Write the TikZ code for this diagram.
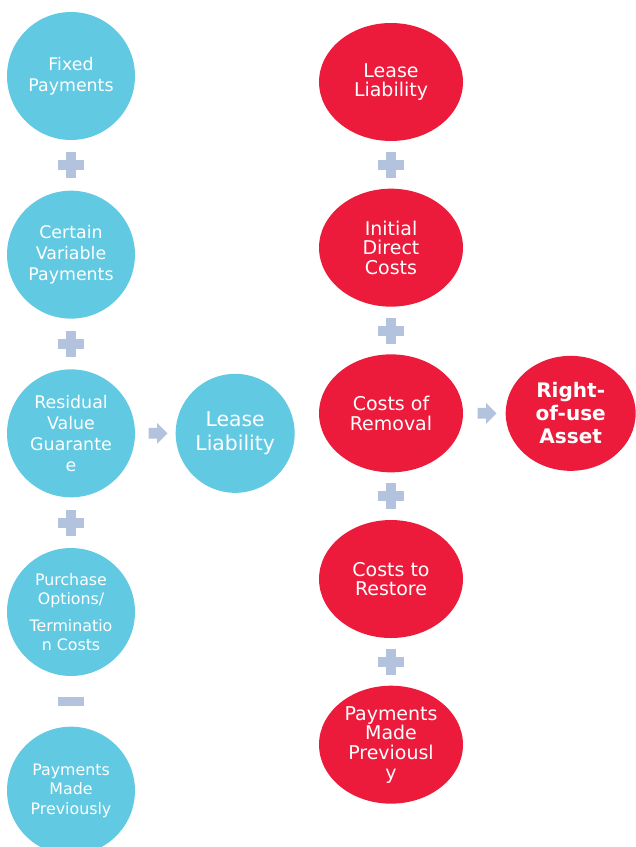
\documentclass[tikz,border=0pt]{standalone}
\usepackage{fontspec}
\setmainfont{DejaVu Sans}
\usetikzlibrary{positioning,calc,shapes.geometric,shapes.arrows}

\definecolor{leasecyan}{HTML}{62C9E2}
\definecolor{assetred}{HTML}{ED1B3B}
\definecolor{opgrey}{HTML}{B3C2DD}

\tikzset{
    leasebub/.style={circle, fill=leasecyan, text=white, minimum size=2.56cm, inner sep=0pt, align=center, font=\fontsize{9.9}{12}\selectfont},
    assetbub/.style={ellipse, fill=assetred, text=white, minimum width=2.88cm, minimum height=2.36cm, inner sep=0pt, align=center, font=\fontsize{10.8}{11.2}\selectfont},
    plusop/.style={minimum size=0.52cm, inner sep=0pt, path picture={
        \fill[opgrey] ([xshift=-0.26cm,yshift=-0.1cm]path picture bounding box.center) rectangle ([xshift=0.26cm,yshift=0.1cm]path picture bounding box.center);
        \fill[opgrey] ([xshift=-0.1cm,yshift=-0.26cm]path picture bounding box.center) rectangle ([xshift=0.1cm,yshift=0.26cm]path picture bounding box.center);}},
    minusop/.style={rectangle, fill=opgrey, minimum width=0.52cm, minimum height=0.18cm, inner sep=0pt},
    blockarrow/.style={single arrow, fill=opgrey, minimum height=0.38cm, inner sep=0.1cm, single arrow head extend=0.1cm}
}

\begin{document}
\begin{tikzpicture}[x=0.02cm, y=-0.02cm]
    \useasboundingbox (0,0) rectangle (635,847);

    % lease liability side
    \node[leasebub] (fp) at (71,76) {Fixed\\Payments};
    \node[leasebub, below=1cm of fp] (cv) {Certain\\Variable\\Payments};
    \node[leasebub, below=1cm of cv] (rv) {Residual\\Value\\Guarante\\e};
    \node[leasebub, below=1cm of rv, font=\fontsize{9}{11}\selectfont] (po) {Purchase\\Options/\\[4pt]Terminatio\\n Costs};
    \node[leasebub, below=1cm of po, font=\fontsize{9}{11}\selectfont] (pm) {Payments\\Made\\Previously};
    \node[leasebub, minimum size=2.38cm, right=0.8cm of rv, font=\fontsize{11.6}{13.6}\selectfont] (ll) {Lease\\Liability};

    \node[plusop] (p1) at ($(fp.south)!0.5!(cv.north)$) {};
    \node[plusop] (p2) at ($(cv.south)!0.5!(rv.north)$) {};
    \node[plusop] (p3) at ($(rv.south)!0.5!(po.north)$) {};
    \node[minusop] (m1) at ($(po.south)!0.5!(pm.north)$) {};
    \node[blockarrow] (a1) at ($(rv.east)!0.5!(ll.west)$) {};

    % right-of-use asset side
    \node[assetbub] (rl) at (391,82) {Lease\\Liability};
    \node[assetbub, below=0.94cm of rl] (id) {Initial\\Direct\\Costs};
    \node[assetbub, below=0.94cm of id] (cr) {Costs of\\Removal};
    \node[assetbub, below=0.94cm of cr] (rs) {Costs to\\Restore};
    \node[assetbub, below=0.94cm of rs] (mp) {Payments\\Made\\Previousl\\y};
    \node[assetbub, minimum width=2.6cm, minimum height=2.3cm, right=0.84cm of cr, font=\fontsize{11.4}{13}\selectfont\bfseries] (ru) {Right-\\of-use\\Asset};

    \node[plusop] (p4) at ($(rl.south)!0.5!(id.north)$) {};
    \node[plusop] (p5) at ($(id.south)!0.5!(cr.north)$) {};
    \node[plusop] (p6) at ($(cr.south)!0.5!(rs.north)$) {};
    \node[plusop] (p7) at ($(rs.south)!0.5!(mp.north)$) {};
    \node[blockarrow] (a2) at ($(cr.east)!0.5!(ru.west)$) {};
\end{tikzpicture}
\end{document}
